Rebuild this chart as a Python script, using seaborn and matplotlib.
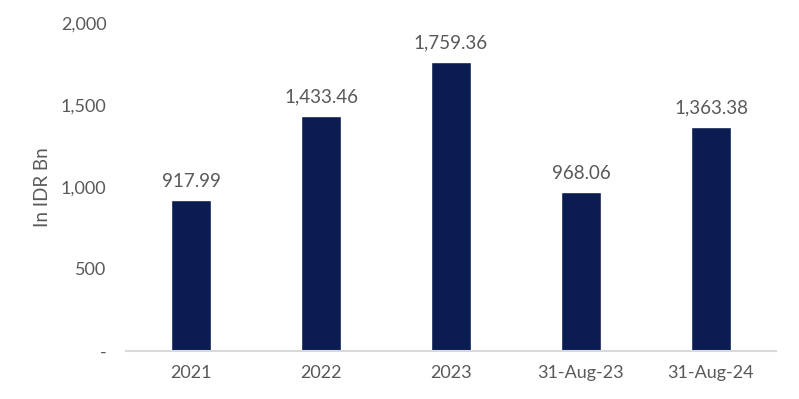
import matplotlib
matplotlib.use('Agg')
import matplotlib.pyplot as plt
import seaborn as sns
import pandas as pd

# データ
categories = ['2021', '2022', '2023', '31-Aug-23', '31-Aug-24']
values = [917.99, 1433.46, 1759.36, 968.06, 1363.38]
y_ticks = [0, 500, 1000, 1500, 2000]
y_tick_labels = ['-', '500', '1,000', '1,500', '2,000']

sns.set_style('white')
plt.rcParams['font.family'] = ['Lato', 'DejaVu Sans']

df = pd.DataFrame({'cat': categories, 'val': values})

fig = plt.figure(figsize=(7.99, 3.99), dpi=100)
ax = fig.add_axes([0.1577, 0.1203, 0.8135, 0.8221])

sns.barplot(data=df, x='cat', y='val', color='#0A1C52', saturation=1, width=0.31, ax=ax)

text_color = '#595959'
for i, v in enumerate(values):
    ax.text(i, v + 65, '{:,.2f}'.format(v), ha='center', va='bottom', fontsize=13.5, color=text_color)

ax.set_ylim(0, 2000)
ax.set_xlim(-0.5, 4.5)
ax.set_yticks(y_ticks)
ax.set_yticklabels(y_tick_labels)
ax.set_xlabel('')
ax.set_ylabel('In IDR Bn', fontsize=13.5, color=text_color, labelpad=7)
ax.tick_params(axis='both', length=0, labelsize=13, colors=text_color)
ax.tick_params(axis='x', pad=10)
ax.tick_params(axis='y', pad=14)

## 枠線
for s in ['top', 'right', 'left']:
    ax.spines[s].set_visible(False)
ax.spines['bottom'].set_color('#D9D9D9')
ax.spines['bottom'].set_linewidth(1.5)

plt.savefig('out.png', dpi=100)
